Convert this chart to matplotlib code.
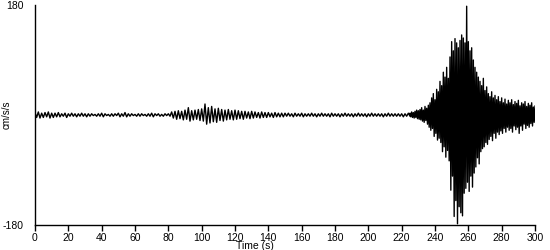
import numpy as np
import matplotlib
matplotlib.use("Agg")
import matplotlib.pyplot as plt

# ---- data (cm/s/s) ----
# quiet part: peaks every 2 s from t=0 to t=224
quiet_step = 2.0
quiet_pos = [4, 5, 3, 4, 5, 3,
             3, 4, 2, 3, 2, 3, 2, 2, 3, 2,
             2, 2, 1, 2, 3, 2, 1, 2, 2, 3, 2, 4, 2, 2, 1, 2, 2, 1, 2, 3, 2, 2, 1, 2, 2,
             5, 6, 7, 6, 8, 12, 7, 8, 9, 10,
             18, 12, 14, 10, 11, 9, 8, 9, 7, 8,
             7, 6, 6, 5, 6, 5, 4, 5, 4, 4, 3, 4, 3, 3, 3,
             3, 2, 3, 2, 3, 2, 2, 3, 2, 2, 3, 2, 2, 3, 2, 2, 2, 3, 2, 2, 2, 3, 2, 2, 2,
             3, 2, 2, 2, 2, 3, 2, 2, 2, 2, 2, 3]
quiet_neg = [-4, -5, -4, -3, -5, -4,
             -3, -3, -2, -4, -2, -2, -3, -2, -2, -3,
             -2, -1, -2, -2, -3, -1, -2, -2, -1, -3, -2, -3, -2, -1, -2, -2, -1, -2, -2, -3, -1, -2, -2, -1, -2,
             -5, -7, -6, -8, -7, -10, -8, -7, -9, -10,
             -15, -13, -11, -12, -9, -10, -8, -7, -8, -7,
             -6, -7, -5, -6, -5, -4, -5, -4, -4, -3, -4, -3, -3, -3, -2,
             -2, -3, -2, -2, -3, -2, -2, -2, -3, -2, -2, -2, -3, -2, -2, -3, -2, -2, -2, -3,
             -2, -2, -2, -3, -2, -2, -2, -2, -3, -2, -2, -2, -2, -2, -3, -2, -2]
quiet_start = 0.0

# main event: peaks every 1 s from t=225 to t=300
event_step = 1.0
event_start = 225.0
event_pos = [3, 5, 4, 6, 8, 7,
             9, 12, 8, 14, 11, 16,
             20, 28, 35, 25, 42, 38,
             55, 48, 70, 62, 78, 60,
             95, 120, 105, 125, 118, 110,
             122, 131, 126, 118, 178, 120,
             105, 110, 90, 78, 70, 62,
             55, 48, 60, 40, 46, 35,
             30, 38, 28, 32, 25, 30,
             22, 28, 20, 26, 18, 24,
             20, 25, 17, 22, 19, 24,
             15, 20, 18, 22, 14, 19,
             16, 20, 13, 15]
event_neg = [-3, -4, -5, -4, -6, -7,
             -8, -10, -12, -9, -15, -20,
             -25, -22, -35, -30, -41, -38,
             -45, -60, -52, -69, -58, -75,
             -123, -100, -166, -140, -178, -150,
             -160, -165, -128, -120, -110, -125,
             -100, -118, -95, -85, -70, -80,
             -60, -55, -52, -45, -48, -40,
             -35, -42, -30, -38, -28, -32,
             -26, -30, -22, -28, -20, -25,
             -22, -28, -18, -24, -20, -30,
             -18, -25, -15, -22, -17, -20,
             -14, -18, -12, -16]

x_ticks = [0, 20, 40, 60, 80, 100, 120, 140, 160, 180, 200, 220, 240, 260, 280, 300]
y_ticks = [-180, 180]


def zigzag(start, step, pos, neg):
    n = min(len(pos), len(neg))
    t = start + step * np.arange(n)
    tt = np.empty(2 * n)
    yy = np.empty(2 * n)
    tt[0::2] = t
    tt[1::2] = t + step / 2
    yy[0::2] = pos[:n]
    yy[1::2] = neg[:n]
    return tt, yy


tq, yq = zigzag(quiet_start, quiet_step, quiet_pos, quiet_neg)
te, ye = zigzag(event_start, event_step, event_pos, event_neg)
t_all = np.concatenate([tq, te])
y_all = np.concatenate([yq, ye])

plt.rcParams['font.family'] = ['Liberation Sans', 'DejaVu Sans']
plt.rcParams['axes.unicode_minus'] = False

fig = plt.figure(figsize=(5.5, 2.5), dpi=100)
ax = fig.add_axes([35 / 550, 1 - 225 / 250, 500 / 550, 220 / 250])
ax.plot(t_all, y_all, color='black', lw=1.0)

ax.set_xlim(0, 300)
ax.set_ylim(-180, 180)
ax.set_xticks(x_ticks)
ax.set_yticks(y_ticks)
ax.spines['top'].set_visible(False)
ax.spines['right'].set_visible(False)
for s in ['left', 'bottom']:
    ax.spines[s].set_linewidth(1.0)
ax.tick_params(axis='x', direction='out', length=4, width=1, pad=1.5, labelsize=7.5)
ax.tick_params(axis='y', length=0, pad=8, labelsize=7.5)
ax.set_xlabel('Time (s)', fontsize=7.5, labelpad=0, va='top')
ax.xaxis.set_label_coords(0.44, -0.073)
ax.set_ylabel('cm/s/s', fontsize=7)
ax.yaxis.set_label_coords(-0.046, 0.5)

fig.savefig('out.png', dpi=100)
